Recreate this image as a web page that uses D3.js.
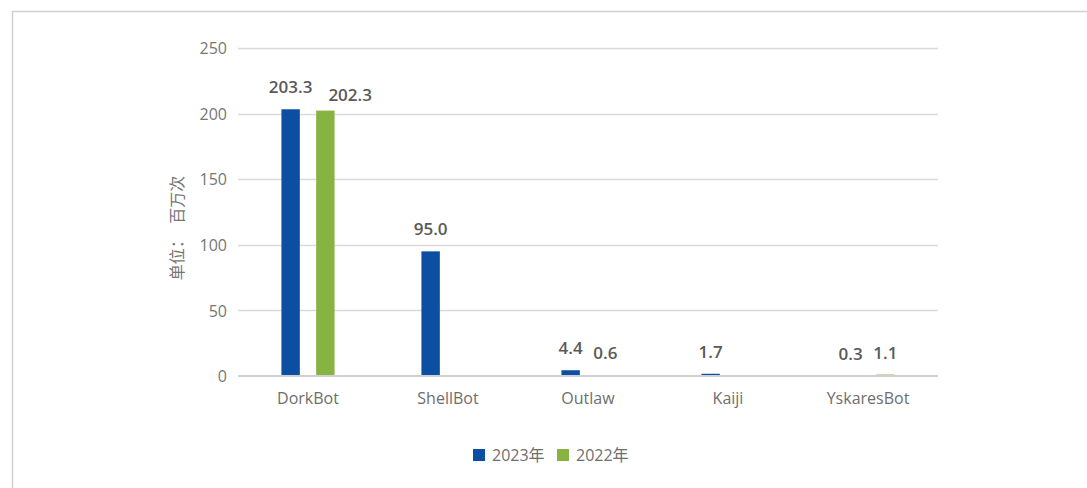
<!DOCTYPE html>
<html>
<head>
<meta charset="utf-8">
<script src="https://cdn.jsdelivr.net/npm/d3@7"></script>
<style>
  html, body { margin: 0; padding: 0; background: #fff; }
  svg { display: block; }
  text { font-family: "Open Sans", "Noto Sans CJK SC", sans-serif; }
</style>
</head>
<body>
<svg id="chart" width="1087" height="488"></svg>
<script>
// Botnet attack counts (millions)
const categories = ["DorkBot", "ShellBot", "Outlaw", "Kaiji", "YskaresBot"];
const seriesNames = ["2023年", "2022年"];
const values2023 = [203.3, 95.0, 4.4, 1.7, 0.3];
const values2022 = [202.3, null, 0.6, null, 1.1];
const yTicks = [0, 50, 100, 150, 200, 250];
const colors = ["#0B4EA2", "#86B341"];

const svg = d3.select("#chart");

// outer frame
svg.append("rect")
  .attr("x", 12.5).attr("y", 11.5)
  .attr("width", 1100).attr("height", 500)
  .attr("fill", "none").attr("stroke", "#D0D0D0").attr("stroke-width", 1.5);

const plot = { left: 238, right: 938, top: 48, bottom: 376 };

const x = d3.scaleBand().domain(categories).range([plot.left, plot.right]);
const y = d3.scaleLinear().domain([0, 250]).range([plot.bottom, plot.top]);
const xs = d3.scaleBand().domain(seriesNames).range([0, x.bandwidth()])
  .paddingInner(0.47).paddingOuter(1.25);

// grid lines
svg.append("g").selectAll("line").data(yTicks.filter(d => d > 0)).join("line")
  .attr("x1", plot.left).attr("x2", plot.right)
  .attr("y1", d => Math.round(y(d)) + 0.5).attr("y2", d => Math.round(y(d)) + 0.5)
  .attr("stroke", "#D9D9D9").attr("stroke-width", 1.3);

// y axis labels
const yAxis = d3.axisLeft(y).tickValues(yTicks).tickSize(0).tickPadding(11);
const gy = svg.append("g").attr("transform", `translate(${plot.left},0)`).call(yAxis);
gy.select(".domain").remove();
gy.selectAll("text").attr("font-size", 16).attr("fill", "#767676").attr("dy", "0.35em");

// y axis title
svg.append("text")
  .attr("transform", `translate(177,228) rotate(-90)`)
  .attr("text-anchor", "middle")
  .attr("dy", "0.35em")
  .attr("font-size", 16).attr("fill", "#767676")
  .attr("font-family", "'Noto Sans CJK SC', sans-serif")
  .style("white-space", "pre")
  .text("单位：  百万次");

// bars
const rows = categories.map((c, i) => ({ cat: c, vals: [values2023[i], values2022[i]] }));
const groups = svg.append("g").selectAll("g").data(rows).join("g")
  .attr("transform", d => `translate(${x(d.cat)},0)`);

const items = groups.selectAll("g.item")
  .data(d => d.vals.map((v, j) => ({ v, s: seriesNames[j], j })).filter(e => e.v != null))
  .join("g").attr("class", "item");

items.append("rect")
  .attr("x", d => xs(d.s))
  .attr("width", xs.bandwidth())
  .attr("y", d => y(d.v))
  .attr("height", d => y(0) - y(d.v))
  .attr("fill", d => colors[d.j]);

// x axis line
svg.append("line")
  .attr("x1", plot.left).attr("x2", plot.right)
  .attr("y1", plot.bottom).attr("y2", plot.bottom)
  .attr("stroke", "#D0D0D0").attr("stroke-width", 2);

// value labels, shifted right/down when they would collide with the neighbour
const labels = items.append("text")
  .attr("x", d => xs(d.s) + xs.bandwidth() / 2)
  .attr("y", d => y(d.v) - 16)
  .attr("text-anchor", "middle")
  .attr("font-size", 17).attr("font-weight", 600).attr("fill", "#595959")
  .text(d => d.v.toFixed(1));

groups.each(function () {
  const ts = d3.select(this).selectAll("text").nodes();
  for (let k = 1; k < ts.length; k++) {
    const a = ts[k - 1].getBBox(), b = ts[k].getBBox();
    const overlapX = b.x < a.x + a.width + 4;
    const overlapY = b.y < a.y + a.height && a.y < b.y + b.height;
    if (overlapX && overlapY) {
      const shift = a.x + a.width + 16 - b.x;
      d3.select(ts[k])
        .attr("x", +d3.select(ts[k]).attr("x") + shift)
        .attr("y", +d3.select(ts[k]).attr("y") + 6);
    }
  }
});

// x axis labels
const xAxis = d3.axisBottom(x).tickSize(0).tickPadding(17);
const gx = svg.append("g").attr("transform", `translate(0,${plot.bottom})`).call(xAxis);
gx.select(".domain").remove();
gx.selectAll("text").attr("font-size", 16).attr("fill", "#6E6E6E");

// legend
const legend = svg.append("g").attr("transform", "translate(473,449)");
const li = legend.selectAll("g").data(seriesNames).join("g")
  .attr("transform", (d, i) => `translate(${i * 84},0)`);
li.append("rect").attr("width", 12).attr("height", 12).attr("fill", (d, i) => colors[i]);
li.append("text").attr("x", 19).attr("y", 12)
  .attr("font-size", 16).attr("fill", "#6E6E6E")
  .attr("font-family", "'Open Sans', 'Noto Sans CJK SC', sans-serif")
  .text(d => d);
</script>
</body>
</html>
